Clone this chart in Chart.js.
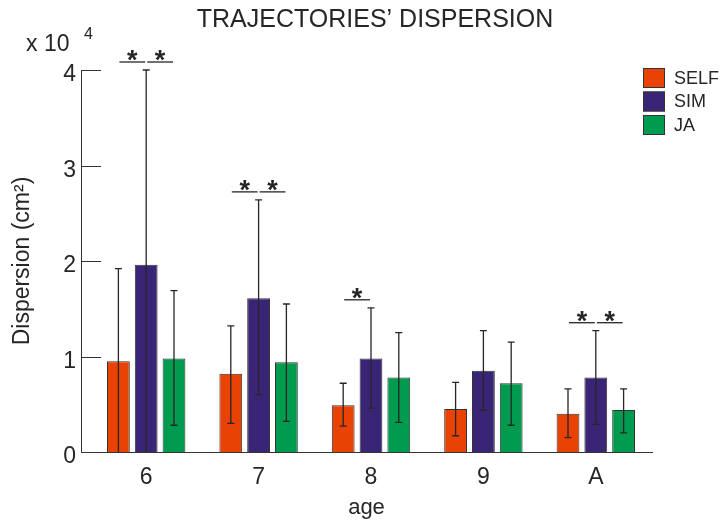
<!DOCTYPE html>
<html>
<head>
<meta charset="utf-8">
<script src="https://cdn.jsdelivr.net/npm/chart.js@4.4.1/dist/chart.umd.min.js"></script>
<style>
  html, body { margin: 0; padding: 0; background: #fff; }
  #wrap { width: 720px; height: 524px; }
</style>
</head>
<body>
<div id="wrap"><canvas id="chart"></canvas></div>
<script>
const ages = ["6", "7", "8", "9", "A"];
const groups = ["SELF", "SIM", "JA"];
const colors = ["#e84305", "#3a2475", "#009b4e"];

// dispersion in units of 10^4 cm^2
const selfMean = [0.95, 0.82, 0.49, 0.45, 0.40];
const simMean = [1.96, 1.61, 0.98, 0.85, 0.78];
const jaMean = [0.98, 0.94, 0.78, 0.72, 0.44];

const selfLow = [-0.02, 0.30, 0.27, 0.17, 0.15];
const selfHigh = [1.92, 1.32, 0.72, 0.73, 0.66];
const simLow = [-0.08, 0.60, 0.46, 0.44, 0.29];
const simHigh = [4.00, 2.64, 1.51, 1.27, 1.27];
const jaLow = [0.28, 0.32, 0.31, 0.28, 0.20];
const jaHigh = [1.69, 1.55, 1.25, 1.15, 0.66];

// significant differences per age, as pairs of group indexes
const sigPairs = [[[0, 1], [1, 2]], [[0, 1], [1, 2]], [[0, 1]], [], [[0, 1], [1, 2]]];

const yTicks = [0, 1, 2, 3, 4];

const FONT = "'Liberation Sans', Arial, sans-serif";
const INK = "#262626";

function series(values) {
  return values.map((v, i) => ({ x: i + 1, y: v }));
}

const means = [selfMean, simMean, jaMean];
const lows = [selfLow, simLow, jaLow];
const highs = [selfHigh, simHigh, jaHigh];

const overlay = {
  id: "overlay",
  afterDatasetsDraw(chart) {
    const ctx = chart.ctx;
    const y = chart.scales.y;
    const area = chart.chartArea;
    ctx.save();
    ctx.beginPath();
    ctx.rect(area.left, area.top - 3, area.right - area.left, area.bottom - area.top + 3);
    ctx.clip();
    ctx.strokeStyle = INK;
    ctx.lineWidth = 1.3;
    chart.data.datasets.forEach((ds, d) => {
      chart.getDatasetMeta(d).data.forEach((bar, i) => {
        const lo = y.getPixelForValue(lows[d][i]);
        const hi = y.getPixelForValue(highs[d][i]);
        ctx.beginPath();
        ctx.moveTo(bar.x, lo);
        ctx.lineTo(bar.x, hi);
        ctx.moveTo(bar.x - 3.5, lo);
        ctx.lineTo(bar.x + 3.5, lo);
        ctx.moveTo(bar.x - 3.5, hi);
        ctx.lineTo(bar.x + 3.5, hi);
        ctx.stroke();
      });
    });
    ctx.restore();
  },
  afterDraw(chart) {
    const ctx = chart.ctx;
    const y = chart.scales.y;
    const area = chart.chartArea;
    ctx.save();

    // inward y ticks
    ctx.strokeStyle = "#333";
    ctx.lineWidth = 1;
    yTicks.forEach((t) => {
      const py = Math.round(y.getPixelForValue(t)) + 0.5;
      ctx.beginPath();
      ctx.moveTo(area.left, py);
      ctx.lineTo(area.left + 20, py);
      ctx.stroke();
    });

    // significance markers
    ctx.fillStyle = INK;
    ctx.textAlign = "center";
    ctx.textBaseline = "alphabetic";
    ctx.font = "bold 27px " + FONT;
    sigPairs.forEach((pairs, i) => {
      if (!pairs.length) return;
      const top = Math.max(...highs.map((h) => h[i]));
      const ly = y.getPixelForValue(top) - 8;
      pairs.forEach(([a, b]) => {
        const xa = chart.getDatasetMeta(a).data[i].x + 1;
        const xb = chart.getDatasetMeta(b).data[i].x - 1;
        ctx.strokeStyle = INK;
        ctx.lineWidth = 1.3;
        ctx.beginPath();
        ctx.moveTo(xa, ly);
        ctx.lineTo(xb, ly);
        ctx.stroke();
        ctx.fillText("*", (xa + xb) / 2, ly + 7);
      });
    });

    // title
    ctx.font = "25px " + FONT;
    ctx.textBaseline = "middle";
    ctx.fillText("TRAJECTORIES\u2019 DISPERSION", 375, 20);

    // multiplier
    ctx.textAlign = "left";
    ctx.font = "23px " + FONT;
    ctx.fillText("x 10", 26, 45);
    ctx.font = "16px " + FONT;
    ctx.fillText("4", 84, 35);

    // legend
    ctx.font = "18px " + FONT;
    groups.forEach((g, d) => {
      const top = 68 + d * 23.5;
      ctx.fillStyle = colors[d];
      ctx.fillRect(643, top, 22, 20);
      ctx.strokeStyle = "#333";
      ctx.lineWidth = 1;
      ctx.strokeRect(643.5, top + 0.5, 21, 19);
      ctx.fillStyle = INK;
      ctx.fillText(g, 674, top + 11);
    });
    ctx.restore();
  }
};

new Chart(document.getElementById("chart"), {
  type: "bar",
  data: {
    datasets: groups.map((g, d) => ({
      label: g,
      data: series(means[d]),
      backgroundColor: colors[d],
      borderColor: "#333",
      borderWidth: 1,
      categoryPercentage: 0.742,
      barPercentage: 0.82
    }))
  },
  options: {
    responsive: true,
    maintainAspectRatio: false,
    animation: false,
    layout: { padding: { left: 0, top: 70, right: 68, bottom: 0 } },
    plugins: {
      legend: { display: false },
      title: { display: false },
      tooltip: { enabled: false }
    },
    scales: {
      x: {
        type: "linear",
        offset: false,
        min: 0.42,
        max: 5.5,
        grid: { display: false, drawTicks: false },
        border: { display: true, color: "#333", width: 1 },
        afterBuildTicks: (s) => { s.ticks = ages.map((_, i) => ({ value: i + 1 })); },
        afterFit: (s) => { s.height = 72; },
        ticks: {
          autoSkip: false,
          maxRotation: 0,
          padding: 12,
          color: INK,
          font: { family: FONT, size: 23 },
          callback: (v) => ages[v - 1]
        },
        title: {
          display: true,
          text: "age",
          color: INK,
          font: { family: FONT, size: 22 },
          padding: { top: 0, bottom: 3 }
        }
      },
      y: {
        min: 0,
        max: 4,
        grid: { display: false, drawTicks: false },
        border: { display: true, color: "#333", width: 1 },
        afterBuildTicks: (s) => { s.ticks = yTicks.map((v) => ({ value: v })); },
        afterFit: (s) => { s.width = 81; },
        ticks: {
          padding: 5,
          labelOffset: 5,
          color: INK,
          font: { family: FONT, size: 23 }
        },
        title: {
          display: true,
          text: "Dispersion (cm\u00b2)",
          color: INK,
          font: { family: FONT, size: 23 },
          padding: { top: 9, bottom: 0 }
        }
      }
    }
  },
  plugins: [overlay]
});
</script>
</body>
</html>
